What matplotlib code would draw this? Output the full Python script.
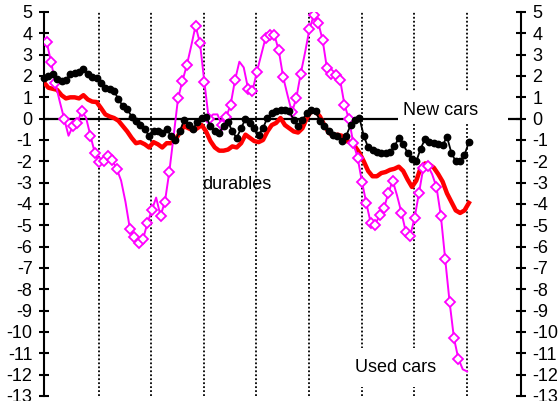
import numpy as np
import matplotlib
matplotlib.use("Agg")
import matplotlib.pyplot as plt
from matplotlib.patches import Rectangle

plt.rcParams['font.family'] = ['Liberation Sans', 'DejaVu Sans']

# ---- data (monthly) ----
new_cars = [1.9, 2.0, 2.1, 1.85, 1.75, 1.8, 2.1, 2.15, 2.2, 2.35,
            2.1, 1.95, 1.9, 1.65, 1.45, 1.4, 1.3, 0.9, 0.6, 0.45,
            0.1, -0.1, -0.3, -0.5, -0.8, -0.6, -0.6, -0.65, -0.5, -0.8,
            -1.0, -0.6, -0.05, -0.3, -0.5, -0.15, 0.05, 0.1, -0.35, -0.6,
            -0.65, -0.35, -0.15, -0.6, -0.9, -0.45, 0.0, -0.2, -0.45, -0.75,
            -0.45, 0.05, 0.25, 0.35, 0.4, 0.4, 0.35, -0.05, -0.35, -0.05,
            0.25, 0.4, 0.35, -0.1, -0.35, -0.6, -0.75, -0.8, -1.05, -0.8,
            -0.3, -0.05, 0.05, -0.8, -1.35, -1.45, -1.55, -1.6, -1.6, -1.55,
            -1.3, -0.9, -1.2, -1.6, -1.9, -2.0, -1.4, -0.95, -1.1, -1.15,
            -1.2, -1.25, -0.85, -1.6, -2.0, -2.0, -1.7, -1.1]

durables = [1.7, 1.45, 1.4, 1.35, 1.1, 0.95, 1.0, 1.0, 0.95, 1.1,
            0.9, 0.8, 0.78, 0.5, 0.2, 0.1, 0.03, -0.1, -0.35, -0.6,
            -0.9, -1.15, -1.1, -1.2, -1.35, -1.1, -1.2, -1.35, -1.15, -1.15,
            -1.0, -0.65, -0.35, -0.45, -0.55, -0.45, -0.3, -0.6, -1.05, -1.35,
            -1.5, -1.5, -1.45, -1.3, -1.35, -1.15, -0.75, -0.9, -1.05, -1.1,
            -1.0, -0.6, -0.3, -0.2, 0.03, -0.3, -0.45, -0.6, -0.65, -0.45,
            0.03, 0.35, 0.35, 0.1, -0.3, -0.65, -0.8, -0.75, -0.8, -1.05,
            -1.1, -1.3, -1.6, -2.0, -2.45, -2.7, -2.7, -2.55, -2.5, -2.4,
            -2.35, -2.25, -2.45, -2.85, -3.2, -2.9, -2.3, -2.1, -2.15, -2.3,
            -2.6, -2.95, -3.5, -3.9, -4.3, -4.42, -4.3, -3.95]

used_cars = [3.85, 3.6, 2.67, 1.66, 0.8, 0.0, -0.8, -0.35, -0.2, 0.35,
             0.05, -0.8, -1.6, -2.05, -2.0, -1.75, -1.95, -2.35, -2.9, -3.9,
             -5.15, -5.55, -5.85, -5.65, -4.9, -4.3, -3.7, -4.55, -3.9, -2.5,
             -0.8, 0.95, 1.77, 2.5, 3.4, 4.35, 3.55, 1.74, 0.0, 0.2,
             0.2, -0.3, 0.08, 0.65, 1.8, 2.67, 2.4, 1.4, 1.3, 2.2,
             3.0, 3.8, 3.9, 3.92, 3.2, 1.95, 1.1, 0.3, 0.96, 2.1,
             3.1, 4.2, 4.85, 4.5, 3.7, 2.36, 2.1, 2.05, 1.82, 0.65,
             0.0, -1.13, -1.83, -2.97, -3.97, -4.9, -5.0, -4.5, -4.2, -3.5,
             -2.9, -3.6, -4.4, -5.3, -5.5, -4.65, -3.5, -2.3, -2.2, -2.6,
             -3.2, -4.55, -6.6, -8.6, -10.3, -11.25, -11.75, -11.85]
# points of the used-car line drawn without a diamond
used_no_marker = [0, 4, 6, 10, 18, 19, 26, 30, 34, 39, 40, 45, 46, 50, 56, 60,
                  81, 89, 96, 97]

labels = {"New cars": (82.0, 0.38), "durables": (36.2, -3.1), "Used cars": (71.0, -11.65)}
yticks = list(range(5, -14, -1))

months = np.arange(len(new_cars))
used_x = months - 0.4
year_lines = 12.5 + 12 * np.arange(8)

fig = plt.figure(figsize=(5.59, 4.01), dpi=100)
ax = fig.add_axes([44 / 559, 5 / 401, 477 / 559, 384 / 401])
ax.set_xlim(0, 108.9)
ax.set_ylim(-13, 5)

for xv in year_lines:
    ax.axvline(xv, color='black', lw=1.3, linestyle=(0, (1, 1.2)), zorder=1)
ax.axhline(0, color='black', lw=1.6, zorder=2)

ax.plot(months, durables, color='#ff0000', lw=3.2, zorder=3, solid_joinstyle='round')
mk = [i for i in range(len(used_cars)) if i not in used_no_marker]
ax.plot(used_x, used_cars, color='#ff00ff', lw=1.4, marker='D', markersize=5.2,
        markerfacecolor='white', markeredgecolor='#ff00ff', markeredgewidth=1.3,
        markevery=mk, zorder=4)
ax.plot(months, new_cars, color='black', lw=1.3, marker='o', markersize=4.6,
        zorder=5, clip_on=False)

# white boxes behind the labels
ax.add_patch(Rectangle((80.8, -0.2), 25.1, 1.45, facecolor='white', edgecolor='none', zorder=6))
ax.add_patch(Rectangle((70.0, -12.6), 21.6, 1.85, facecolor='white', edgecolor='none', zorder=6))
for txt, (tx, ty) in labels.items():
    ax.text(tx, ty, txt, fontsize=13, ha='left', va='center', zorder=7)

ax.spines['top'].set_visible(False)
ax.spines['bottom'].set_visible(False)
for s in ('left', 'right'):
    ax.spines[s].set_linewidth(1.5)
ax.set_xticks([])
ax.set_yticks(yticks)
ax.set_yticklabels([str(v) for v in yticks])
ax.tick_params(axis='y', which='both', left=True, right=True, labelleft=True,
               labelright=True, direction='inout', length=7.5, width=1.5,
               pad=4.5, labelsize=13)

fig.savefig('out.png', dpi=100)
